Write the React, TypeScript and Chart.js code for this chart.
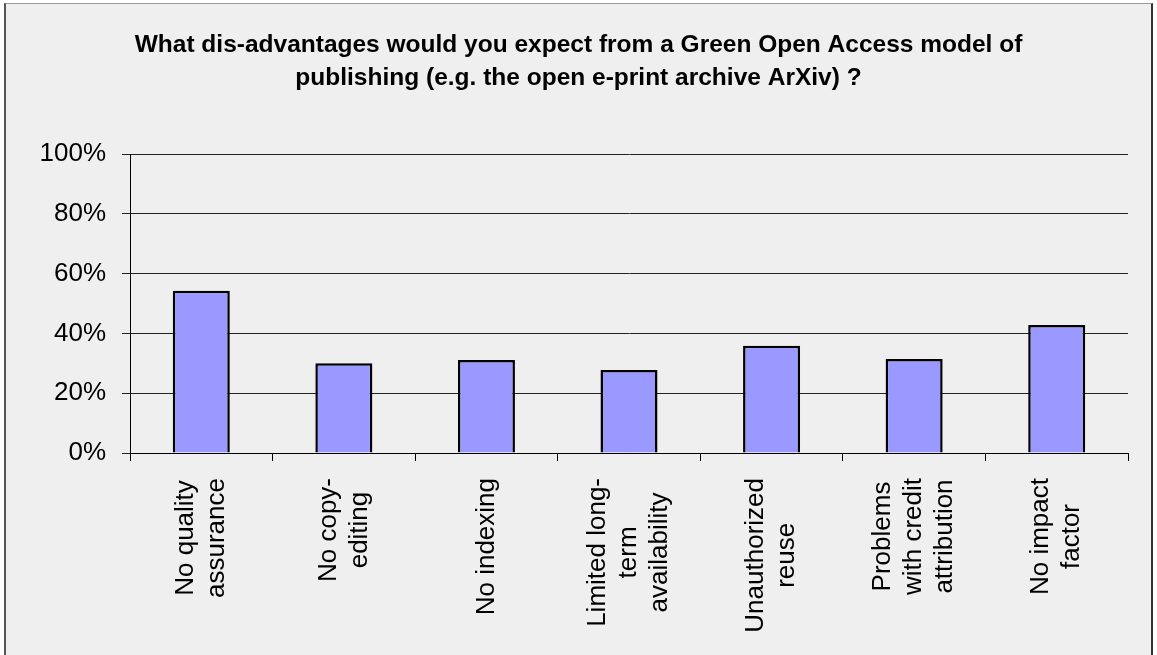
import React, { useEffect, useRef } from "react";
import { Chart, registerables } from "chart.js";

Chart.register(...registerables);

const titleLines: string[] = [
  "What dis-advantages would you expect from a Green Open Access model of",
  "publishing (e.g. the open e-print archive ArXiv) ?",
];

const categories: string[][] = [
  ["No quality", "assurance"],
  ["No copy-", "editing"],
  ["No indexing"],
  ["Limited long-", "term", "availability"],
  ["Unauthorized", "reuse"],
  ["Problems", "with credit", "attribution"],
  ["No impact", "factor"],
];

const values: number[] = [54.3, 30.0, 31.1, 27.8, 35.9, 31.4, 42.8];

const yTickValues: number[] = [0, 20, 40, 60, 80, 100];
const yTickLabels: string[] = ["0%", "20%", "40%", "60%", "80%", "100%"];

const FONT = '"Liberation Sans", Arial, sans-serif';

const xLabelPlugin = {
  id: "xLabelsCentered",
  afterDraw(chart: any) {
    const scale = chart.scales.x;
    const ctx = chart.ctx as CanvasRenderingContext2D;
    ctx.save();
    ctx.font = `26px ${FONT}`;
    ctx.fillStyle = "#000";
    ctx.textBaseline = "middle";
    ctx.textAlign = "center";
    const lh = 31;
    const top = scale.top + 25;
    categories.forEach((lines, i) => {
      const cx = scale.getPixelForValue(i);
      const W = Math.max(...lines.map((l) => ctx.measureText(l).width));
      ctx.save();
      ctx.translate(cx, top);
      ctx.rotate(-Math.PI / 2);
      lines.forEach((l, j) => {
        ctx.fillText(l, -W / 2, (j - (lines.length - 1) / 2) * lh);
      });
      ctx.restore();
    });
    ctx.restore();
  },
};

export default function App() {
  const ref = useRef<HTMLCanvasElement | null>(null);

  useEffect(() => {
    document.body.style.margin = "0";
    document.body.style.background = "#ffffff";
    if (!ref.current) return;
    const chart = new Chart(ref.current, {
      type: "bar",
      data: {
        labels: categories.map((c) => c.join(" ")),
        datasets: [
          {
            data: values,
            backgroundColor: "#9999FF",
            borderColor: "#000000",
            borderWidth: 2.5,
            barPercentage: 0.4,
            categoryPercentage: 1,
          },
        ],
      },
      options: {
        responsive: false,
        animation: false,
        layout: { padding: { left: 29, right: 29, top: 0, bottom: 0 } },
        plugins: {
          legend: { display: false },
          tooltip: { enabled: false },
          title: {
            display: true,
            text: titleLines,
            color: "#000",
            font: { family: FONT, size: 24.5, weight: "bold", lineHeight: 33 / 24.5 },
            padding: { top: 28.5, bottom: 59.5 },
          },
        },
        scales: {
          x: {
            grid: {
              display: true,
              drawOnChartArea: false,
              offset: true,
              tickLength: 8,
              color: "#000",
            },
            border: { color: "#000" },
            ticks: { display: false },
            afterFit(s: any) {
              s.height = 202;
            },
          },
          y: {
            min: 0,
            max: 100,
            afterBuildTicks(s: any) {
              s.ticks = yTickValues.map((v) => ({ value: v }));
            },
            ticks: {
              color: "#000",
              padding: 16,
              font: { family: FONT, size: 26 },
              callback: (v: any) => {
                const i = yTickValues.indexOf(Number(v));
                return i >= 0 ? yTickLabels[i] : "";
              },
            },
            grid: { color: "#222", tickLength: 8 },
            border: { color: "#000" },
            afterFit(s: any) {
              s.width = 101;
            },
          },
        },
      },
      plugins: [xLabelPlugin],
    });
    return () => chart.destroy();
  }, []);

  return (
    <div style={{ position: "fixed", left: 0, top: 0, width: 1157, height: 655 }}>
      <div
        style={{
          position: "absolute",
          left: 4,
          top: 3,
          width: 1149,
          height: 660,
          background: "#EFEFEF",
          borderLeft: "2px solid #555",
          borderTop: "1px solid #999",
          borderRight: "2px solid #333",
          boxSizing: "border-box",
        }}
      />
      <canvas
        ref={ref}
        width={1157}
        height={655}
        style={{ position: "absolute", left: 0, top: 0, width: 1157, height: 655 }}
      />
    </div>
  );
}
